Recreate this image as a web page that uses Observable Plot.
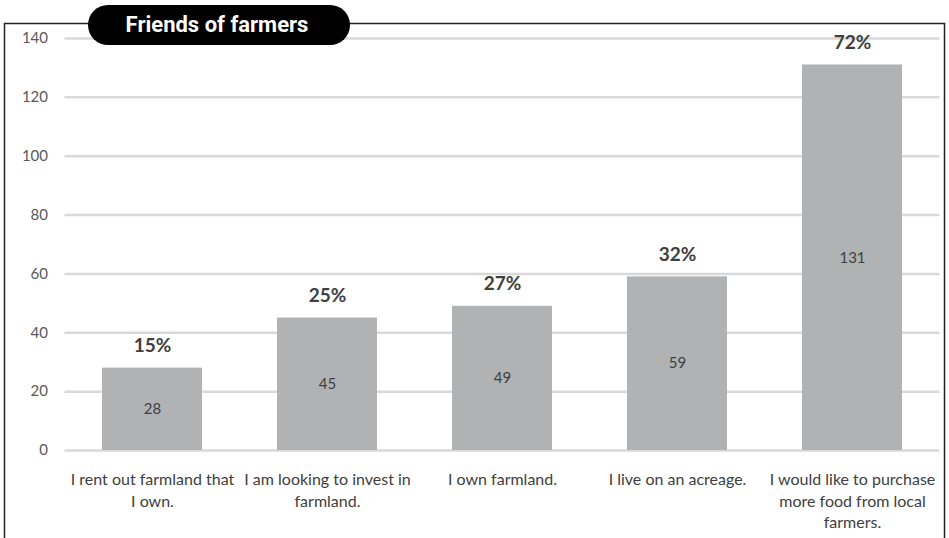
<!DOCTYPE html>
<html><head><meta charset="utf-8">
<script src="https://cdn.jsdelivr.net/npm/d3@7"></script>
<script src="https://cdn.jsdelivr.net/npm/@observablehq/plot@0.6"></script>
<style>
body{margin:0;background:#fff;}
#chart svg{display:block;}
</style></head>
<body><div id="chart"></div>
<script>
const title = "Friends of farmers";
const categories = [
  "I rent out farmland that\nI own.",
  "I am looking to invest in\nfarmland.",
  "I own farmland.",
  "I live on an acreage.",
  "I would like to purchase\nmore food from local\nfarmers."
];
const counts = [28, 45, 49, 59, 131];
const percents = ["15%", "25%", "27%", "32%", "72%"];
const yTicks = [0, 20, 40, 60, 80, 100, 120, 140];

const data = categories.map((c, i) => ({cat: c, n: counts[i], pct: percents[i]}));
const font = "Lato, sans-serif";

const plot = Plot.plot({
  width: 949,
  height: 538,
  marginTop: 38,
  marginBottom: 88,
  marginLeft: 64.5,
  marginRight: 9.5,
  style: {fontFamily: font, background: "#fff"},
  x: {domain: categories, paddingInner: 0.43, paddingOuter: 0.215, label: null},
  y: {domain: [0, 140], label: null},
  marks: [
    Plot.gridY(yTicks, {stroke: "#d9d9d9", strokeOpacity: 1, strokeWidth: 2.5}),
    Plot.barY(data, {x: "cat", y: "n", fill: "#b1b2b4"}),
    Plot.axisY(yTicks, {tickSize: 0, tickPadding: 17, fontSize: 15, fill: "#595959", label: null}),
    Plot.axisX({tickSize: 0, tickPadding: 19, fontSize: 16, fill: "#404040", lineHeight: 1.36, label: null}),
    Plot.text(data, {x: "cat", y: d => d.n / 2, text: d => String(d.n), fontSize: 15, fill: "#404040"}),
    Plot.text(data, {x: "cat", y: "n", text: "pct", dy: -22, fontSize: 19, fontWeight: "bold", fill: "#404040"})
  ]
});

const svg = d3.select(plot);
// outer border
svg.append("rect").attr("x", 4.5).attr("y", 23.5).attr("width", 940).attr("height", 530)
  .attr("fill", "none").attr("stroke", "#222").attr("stroke-width", 1.5);
// title pill
svg.append("rect").attr("x", 88).attr("y", 5).attr("width", 262).attr("height", 40)
  .attr("rx", 20).attr("ry", 20).attr("fill", "#000");
svg.append("text").attr("x", 217).attr("y", 26).attr("text-anchor", "middle")
  .attr("dominant-baseline", "middle").attr("fill", "#fff")
  .attr("font-family", "Liberation Sans Narrow, Roboto, sans-serif").attr("font-weight", "bold").attr("font-size", 22)
  .text(title);

document.getElementById("chart").appendChild(plot);
</script>
</body></html>
